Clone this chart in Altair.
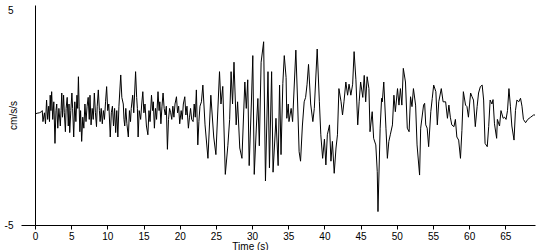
import altair as alt
import pandas as pd

time_s = [
    0.0, 0.3, 0.6, 0.9, 1.0, 1.1, 1.3, 1.45, 1.6, 1.75, 1.9, 2.0, 2.1, 2.2, 2.3, 2.45, 2.6, 2.76, 2.9,
    3.0, 3.15, 3.3, 3.5, 3.6, 3.7, 3.8, 3.95, 4.05, 4.2, 4.3, 4.45, 4.6, 4.7, 4.8, 4.95,
    5.1, 5.2, 5.35, 5.5, 5.65, 5.8, 5.9, 6.0, 6.1, 6.2, 6.3, 6.45, 6.6, 6.75, 6.9,
    7.05, 7.2, 7.35, 7.5, 7.6, 7.75, 7.9, 8.05, 8.2, 8.35, 8.5, 8.6, 8.75, 8.9,
    9.0, 9.15, 9.3, 9.45, 9.6, 9.75, 9.9, 10.05, 10.2, 10.4, 10.55, 10.7, 10.85,
    11.0, 11.15, 11.3, 11.45, 11.6, 11.85, 12.0, 12.2, 12.3, 12.4, 12.55, 12.7, 12.9,
    13.05, 13.2, 13.3, 13.5, 13.65, 13.9, 14.05, 14.15, 14.25, 14.4, 14.6, 14.75, 14.9,
    15.05, 15.2, 15.4, 15.6, 15.75, 15.9, 16.1, 16.25, 16.35, 16.5, 16.65, 16.8,
    17.0, 17.15, 17.25, 17.4, 17.55, 17.7, 17.85, 18.0, 18.15, 18.3, 18.45, 18.6, 18.75, 18.9,
    19.05, 19.2, 19.35, 19.55, 19.7, 19.85, 20.0, 20.2, 20.35, 20.5, 20.7, 20.85,
    21.0, 21.2, 21.35, 21.5, 21.65, 21.85, 22.0, 22.15, 22.3, 22.5, 22.65, 22.8,
    23.0, 23.2, 23.5, 23.9, 24.3, 24.7, 25.0, 25.5, 25.7, 25.95, 26.3, 26.65, 26.9,
    27.1, 27.3, 27.5, 27.8, 28.0, 28.3, 28.6, 29.0, 29.2, 29.4, 29.6, 29.9,
    30.1, 30.3, 30.6, 30.8, 31.0, 31.25, 31.6, 31.85, 32.2, 32.4, 32.7, 32.9,
    33.3, 33.6, 33.8, 34.0, 34.25, 34.45, 34.7, 34.8, 35.0, 35.1, 35.4, 35.6,
    36.05, 36.3, 36.5, 36.7, 36.95, 37.2, 37.4, 37.6, 37.8, 38.1, 38.4, 38.6,
    39.0, 39.3, 39.5, 39.75, 40.0, 40.2, 40.4, 40.7, 40.9, 41.1, 41.35, 41.6, 41.8,
    42.0, 42.3, 42.5, 42.7, 42.96, 43.2, 43.4, 43.65, 43.9, 44.1, 44.35, 44.6, 44.8,
    45.0, 45.3, 45.5, 45.7, 45.9, 46.15, 46.3, 46.6, 46.8, 47.1, 47.3, 47.4, 47.7, 47.9,
    48.0, 48.2, 48.5, 48.7, 48.9, 49.1, 49.4, 49.6, 49.8, 50.1, 50.3, 50.5, 50.7, 50.9,
    51.2, 51.45, 51.7, 51.9, 52.1, 52.3, 52.6, 52.8, 53.15, 53.3, 53.7, 53.85,
    54.0, 54.2, 54.4, 54.7, 54.9, 55.1, 55.4, 55.6, 55.8, 56.15, 56.4, 56.75,
    57.0, 57.2, 57.4, 57.6, 57.9, 58.1, 58.3, 58.55, 58.8, 59.0, 59.2, 59.5, 59.7, 59.9,
    60.2, 60.4, 60.6, 60.85, 61.1, 61.3, 61.55, 61.8, 62.0, 62.2, 62.5, 62.7, 62.9,
    63.15, 63.3, 63.5, 63.8, 63.9, 64.2, 64.4, 64.7, 64.9, 65.1, 65.3, 65.5, 65.7, 65.9,
    66.2, 66.4, 66.6, 66.85, 67.1, 67.3, 67.5, 67.8, 68.1, 68.5, 68.9, 69.1,
]

accel = [
    0.05, 0.08, 0.1, 0.15, 0.2, -0.3, 0.1, -0.4, 0.68, -0.2, 0.4, -0.3, 0.9, 0.2, 1.06, -0.2, 0.6, -1.29, 0.2,
    0.5, -0.6, 0.3, -0.5, 0.2, 1.0, -0.1, 0.9, 0.1, -0.76, 0.3, 0.8, -0.5, 0.5, -0.8, 0.2,
    1.0, 0.3, -1.0, 0.6, -0.3, 0.9, 0.3, 1.74, 0.4, -0.76, 0.2, -1.2, -0.1, -0.6, 0.5,
    -0.3, 0.4, 0.8, -0.2, 0.9, -0.45, 0.3, -0.2, 1.0, 0.1, -0.53, 0.4, 1.14, 0.2,
    -0.3, 0.3, -0.4, 0.2, -0.2, 0.6, 1.29, 0.2, 0.5, -1.0, 0.1, 0.4, -0.5,
    0.3, -0.8, 0.2, -1.0, 0.4, 1.82, 0.8, 0.5, -0.2, -0.5, 0.3, -0.4, -1.0,
    0.2, -0.3, 0.3, 0.9, 0.1, 1.97, 0.8, 0.3, -1.0, 0.2, -0.2, 0.5, 1.06,
    0.1, 0.5, -0.5, -0.9, 0.2, -0.3, 0.9, 0.2, 0.6, -0.6, 0.3, -0.2,
    1.06, 0.2, 0.6, -0.4, 0.4, 1.0, 0.3, 0.0, 0.4, -1.56, -0.2, 0.3, 0.1, -0.2,
    0.4, -0.1, 0.5, 0.83, 0.1, 0.4, -0.4, 0.2, -0.2, 0.5, 0.83, 0.0,
    0.4, -0.6, -0.1, 0.3, -0.2, -0.3, 0.5, -0.1, 1.14, -1.36, -0.3, 0.4,
    0.6, 1.36, -0.45, -1.97, 0.9, -1.0, -1.8, 1.97, 0.5, 1.3, -2.7, -1.4, -0.2,
    1.97, 0.5, 2.4, -0.45, 0.6, -1.5, -1.97, 1.5, 0.3, 1.6, -2.3, 0.5,
    2.7, -2.7, -0.5, 0.75, -1.4, 2.4, 3.33, -3.0, 1.97, -2.4, 1.97, -2.6,
    -0.15, -2.3, 1.36, -1.8, 1.44, 2.7, 1.7, -0.15, 0.5, -0.3, 0.3, -0.3,
    2.95, 0.5, -1.67, -2.1, -0.5, 0.6, 0.8, 1.4, 2.3, 0.5, -0.3, 0.3,
    3.0, 0.6, -0.9, -1.97, -1.1, -2.27, -0.9, -0.45, -2.1, -1.2, -2.65, -1.5, -0.9,
    1.2, 0.6, 0.0, 0.6, 1.5, 0.9, 1.4, 0.9, 1.4, 2.88, 1.6, -0.45, 0.6,
    1.5, 0.8, 1.8, 0.6, 1.74, 1.2, -0.76, 0.15, -1.06, -1.36, -2.58, -4.39, -0.6, 0.76,
    0.6, 1.5, -0.6, -1.97, -1.2, -0.9, -0.45, 0.9, 0.15, 1.2, 0.45, 1.2, 0.45, 2.12,
    1.5, -0.6, -0.76, 0.83, 0.38, 1.2, 0.45, -1.36, -2.73, -0.6, 0.45, 0.53,
    -0.45, -0.6, -1.44, 0.15, 0.76, 1.36, 1.06, -0.45, 0.6, 1.2, 0.6, 0.6,
    -0.15, 0.45, -0.1, -0.45, -0.53, -0.2, -1.0, -1.14, -1.97, -0.7, 1.06, 0.45, 0.38, -0.1,
    1.0, 0.83, 0.68, -0.53, 0.38, 1.0, 1.29, 1.36, 0.68, -1.29, -1.44, -0.53, 0.68,
    0.5, 0.7, -0.4, -1.06, -0.2, -0.5, 0.2, -0.15, -0.1, -0.2, 0.2, 1.2, 0.4, -0.5,
    -1.14, 0.2, 0.68, 0.6, 0.76, 0.4, -0.2, -0.35, -0.2, -0.1, 0.0, 0.0,
]

df = pd.DataFrame({"t": time_s, "a": accel})

FONT = "Liberation Sans"

chart = alt.Chart(df).mark_line(color="black", strokeWidth=1).encode(
    x=alt.X(
        "t:Q",
        scale=alt.Scale(domain=[0, 69.1], nice=False, zero=False),
        axis=alt.Axis(
            values=[0, 5, 10, 15, 20, 25, 30, 35, 40, 45, 50, 55, 60, 65],
            title="Time (s)",
            grid=False,
            tickSize=4,
            labelPadding=2,
            labelFlush=False,
            titleX=215,
            titleY=16,
            titleBaseline="top",
            titleAlign="center",
        ),
    ),
    y=alt.Y(
        "a:Q",
        scale=alt.Scale(domain=[-5, 5], nice=False),
        axis=alt.Axis(
            values=[5, -5],
            title="cm/s/s",
            grid=False,
            tickSize=14,
            tickColor={"condition": {"test": "datum.value < 0", "value": "black"}, "value": "transparent"},
            labelBaseline={"condition": {"test": "datum.value > 0", "value": "top"}, "value": "middle"},
            labelFlush=False,
            labelPadding=8,
            labelExpr="datum.value < 0 ? '-' + abs(datum.value) : '' + datum.value",
            titleX=-22,
            titleY=110,
            titleAngle=-90,
            titleAlign="center",
            titleBaseline="middle",
        ),
    ),
).properties(
    width=500,
    height=220,
    autosize=alt.AutoSizeParams(type="none"),
    padding={"left": 35, "top": 5, "right": 15, "bottom": 25},
).configure_view(stroke=None).configure_axis(
    domainColor="black",
    tickColor="black",
    labelColor="black",
    titleColor="black",
    labelFont=FONT,
    titleFont=FONT,
    labelFontSize=10,
    titleFontSize=10,
    titleFontWeight="normal",
    domainWidth=1,
    tickWidth=1,
)

chart.save("out.html", embed_options={"renderer": "svg", "actions": False})
